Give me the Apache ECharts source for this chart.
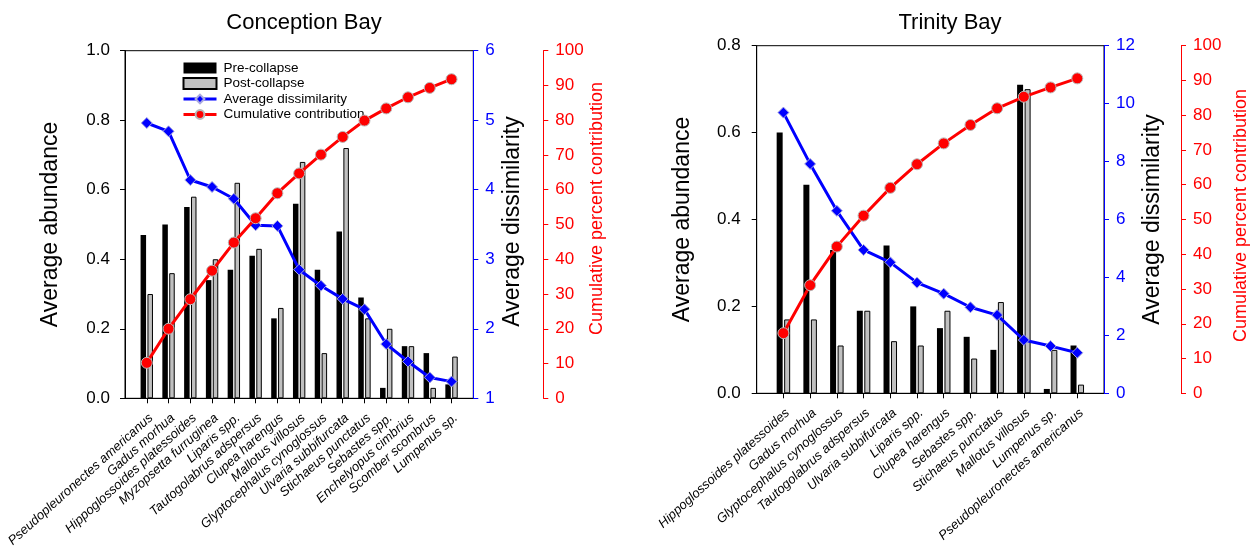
<!DOCTYPE html>
<html>
<head>
<meta charset="utf-8">
<script src="https://cdn.jsdelivr.net/npm/echarts@6/dist/echarts.min.js"></script>
<style>
  html, body { margin: 0; padding: 0; background: #fff; }
  #chart { width: 1252px; height: 550px; }
</style>
</head>
<body>
<div id="chart"></div>
<script>
// Conception Bay: species ranked by contribution to dissimilarity
const cbSpecies = [
  'Pseudopleuronectes americanus', 'Gadus morhua', 'Hippoglossoides platessoides',
  'Myzopsetta furruginea', 'Liparis spp.', 'Tautogolabrus adspersus', 'Clupea harengus',
  'Mallotus villosus', 'Glyptocephalus cynoglossus', 'Ulvaria subbifurcata',
  'Stichaeus punctatus', 'Sebastes spp.', 'Enchelyopus cimbrius', 'Scomber scombrus',
  'Lumpenus sp.'
];
const cbPre    = [0.47, 0.50, 0.55, 0.34, 0.37, 0.41, 0.23, 0.56, 0.37, 0.48, 0.29, 0.03, 0.15, 0.13, 0.04];
const cbPost   = [0.30, 0.36, 0.58, 0.40, 0.62, 0.43, 0.26, 0.68, 0.13, 0.72, 0.23, 0.20, 0.15, 0.03, 0.12];
const cbDissim = [4.96, 4.84, 4.14, 4.04, 3.87, 3.49, 3.48, 2.85, 2.62, 2.43, 2.28, 1.78, 1.53, 1.30, 1.24];
const cbCumul  = [10.2, 20.0, 28.5, 36.7, 44.8, 51.8, 59.0, 64.7, 70.1, 75.2, 79.9, 83.4, 86.6, 89.3, 91.8];

// Trinity Bay
const tbSpecies = [
  'Hippoglossoides platessoides', 'Gadus morhua', 'Glyptocephalus cynoglossus',
  'Tautogolabrus adspersus', 'Ulvaria subbifurcata', 'Liparis spp.', 'Clupea harengus',
  'Sebastes spp.', 'Stichaeus punctatus', 'Mallotus villosus', 'Lumpenus sp.',
  'Pseudopleuronectes americanus'
];
const tbPre    = [0.60, 0.48, 0.33, 0.19, 0.34, 0.20, 0.15, 0.13, 0.10, 0.71, 0.01, 0.11];
const tbPost   = [0.17, 0.17, 0.11, 0.19, 0.12, 0.11, 0.19, 0.08, 0.21, 0.70, 0.10, 0.02];
const tbDissim = [9.69, 7.92, 6.30, 4.95, 4.52, 3.82, 3.44, 2.97, 2.70, 1.84, 1.63, 1.40];
const tbCumul  = [17.3, 31.1, 42.2, 51.1, 59.1, 65.9, 71.9, 77.2, 82.0, 85.3, 88.0, 90.6];

const FONT = '"Liberation Sans", Arial, sans-serif';
const BLUE = '#0000ff';
const RED = '#ff0000';

// one empty slot at each end keeps the first/last species off the axes
const pad = (arr, fill) => [fill, ...arr, fill];

function catAxis(gridIndex, names) {
  return {
    type: 'category', gridIndex, data: pad(names, ''), boundaryGap: false,
    axisLine: { lineStyle: { color: '#000', width: 1 } },
    axisTick: { show: true, length: 5, interval: (i, v) => v !== '', lineStyle: { color: '#000' } },
    axisLabel: {
      interval: 0, rotate: 42, align: 'right', verticalAlign: 'top', margin: 13,
      fontSize: 13, fontStyle: 'italic', fontFamily: FONT, color: '#000'
    },
    splitLine: { show: false }
  };
}

function valAxis(o) {
  return {
    type: 'value', gridIndex: o.grid, position: o.pos, offset: o.offset || 0,
    min: o.min, max: o.max, interval: o.interval,
    name: o.name, nameLocation: 'middle', nameGap: o.nameGap, nameRotate: 90,
    nameTextStyle: { fontSize: o.nameSize, color: o.nameColor, fontFamily: FONT, padding: o.namePad || 0 },
    axisLine: { show: true, lineStyle: { color: o.color, width: 1 } },
    axisTick: { show: true, length: 5, lineStyle: { color: o.color } },
    axisLabel: {
      fontSize: 17, color: o.color, fontFamily: FONT, margin: o.margin,
      formatter: o.fmt || (v => String(v))
    },
    splitLine: { show: false }
  };
}

function seriesFor(idx, pre, post, dissim, cumul, barW) {
  const yBase = idx * 3;
  return [
    {
      name: 'Pre-collapse', type: 'bar', xAxisIndex: idx, yAxisIndex: yBase,
      data: pad(pre, '-'), barWidth: barW, barGap: '25%',
      itemStyle: { color: '#000' }
    },
    {
      name: 'Post-collapse', type: 'bar', xAxisIndex: idx, yAxisIndex: yBase,
      data: pad(post, '-'), barWidth: barW, barGap: '25%',
      itemStyle: { color: '#c0c0c0', borderColor: '#000', borderWidth: 1 }
    },
    {
      name: 'Average dissimilarity', type: 'line', xAxisIndex: idx, yAxisIndex: yBase + 1,
      data: pad(dissim, null), showAllSymbol: true, symbol: 'diamond', symbolSize: 11,
      lineStyle: { color: BLUE, width: 3 },
      itemStyle: { color: BLUE, borderColor: '#a9a9e0', borderWidth: 1 }, z: 3
    },
    {
      name: 'Cumulative contribution', type: 'line', xAxisIndex: idx, yAxisIndex: yBase + 2,
      data: pad(cumul, null), showAllSymbol: true, symbol: 'circle', symbolSize: 11,
      lineStyle: { color: RED, width: 3 },
      itemStyle: { color: RED, borderColor: '#b8b8b8', borderWidth: 1 }, z: 4
    }
  ];
}

const chart = echarts.init(document.getElementById('chart'), null, { renderer: 'canvas' });

chart.setOption({
  animation: false,
  backgroundColor: '#fff',
  textStyle: { fontFamily: FONT },
  title: [
    { text: 'Conception Bay', left: 299, top: 7, textAlign: 'center',
      textStyle: { fontSize: 22, fontWeight: 'normal', color: '#000', fontFamily: FONT } },
    { text: 'Trinity Bay', left: 945, top: 7, textAlign: 'center',
      textStyle: { fontSize: 22, fontWeight: 'normal', color: '#000', fontFamily: FONT } }
  ],
  legend: {
    left: 177, top: 56, orient: 'vertical', itemWidth: 33, itemHeight: 11, itemGap: 1.5,
    selectedMode: false,
    lineStyle: { width: 3 },
    data: [
      { name: 'Pre-collapse', icon: 'rect' },
      { name: 'Post-collapse', icon: 'rect' },
      'Average dissimilarity',
      'Cumulative contribution'
    ],
    textStyle: { fontSize: 13.5, color: '#000', fontFamily: FONT, padding: [0, 0, 0, 2] }
  },
  grid: [
    { left: 125, top: 50.7, width: 348.3, height: 347.6, show: true, borderColor: '#000', borderWidth: 1, backgroundColor: 'transparent' },
    { left: 756.7, top: 45.7, width: 347.3, height: 347.6, show: true, borderColor: '#000', borderWidth: 1, backgroundColor: 'transparent' }
  ],
  xAxis: [catAxis(0, cbSpecies), catAxis(1, tbSpecies)],
  yAxis: [
    valAxis({ grid: 0, pos: 'left', min: 0, max: 1, interval: 0.2, color: '#000',
      name: 'Average abundance', nameGap: 63, nameSize: 23, nameColor: '#000', margin: 15,
      fmt: v => v.toFixed(1) }),
    valAxis({ grid: 0, pos: 'right', min: 1, max: 6, interval: 1, color: BLUE,
      name: 'Average dissimilarity', nameGap: 28, nameSize: 23, nameColor: '#000', margin: 12,
      namePad: [0, 0, 0, 6] }),
    valAxis({ grid: 0, pos: 'right', offset: 70, min: 0, max: 100, interval: 10, color: RED,
      name: 'Cumulative percent contribution', nameGap: 45, nameSize: 18, nameColor: RED, margin: 12,
      namePad: [0, 0, 0, 32] }),
    valAxis({ grid: 1, pos: 'left', min: 0, max: 0.8, interval: 0.2, color: '#000',
      name: 'Average abundance', nameGap: 63, nameSize: 23, nameColor: '#000', margin: 16,
      fmt: v => v.toFixed(1) }),
    valAxis({ grid: 1, pos: 'right', min: 0, max: 12, interval: 2, color: BLUE,
      name: 'Average dissimilarity', nameGap: 37, nameSize: 23, nameColor: '#000', margin: 12 }),
    valAxis({ grid: 1, pos: 'right', offset: 77, min: 0, max: 100, interval: 10, color: RED,
      name: 'Cumulative percent contribution', nameGap: 51, nameSize: 18, nameColor: RED, margin: 12,
      namePad: [0, 0, 0, 8] })
  ],
  series: [
    ...seriesFor(0, cbPre, cbPost, cbDissim, cbCumul, 5.5),
    ...seriesFor(1, tbPre, tbPost, tbDissim, tbCumul, 6)
  ]
});
</script>
</body>
</html>
